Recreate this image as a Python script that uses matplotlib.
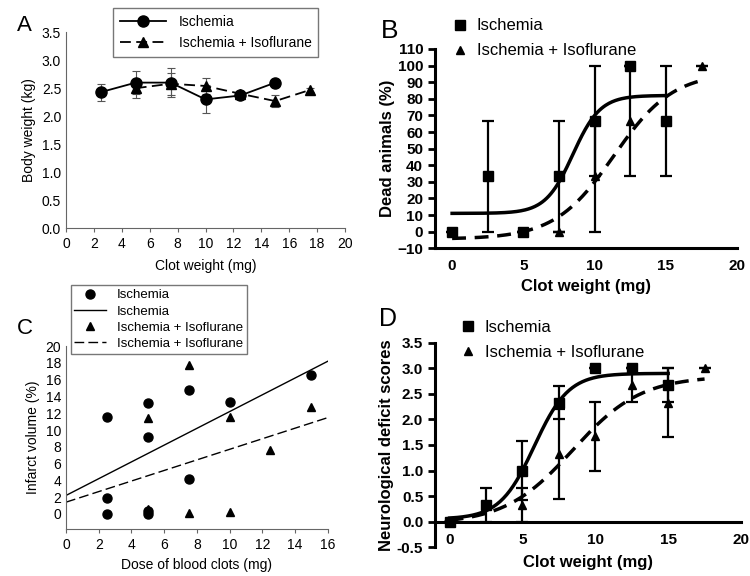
"""
Four-panel clot weight figure: body weight, mortality, infarct volume, neuro scores
"""

import numpy as np
import matplotlib
matplotlib.use("Agg")
import matplotlib.pyplot as plt

plt.rcParams['font.family'] = ['Liberation Sans', 'DejaVu Sans']

# Panel A - body weight (kg)
a_isch_x = [2.5, 5, 7.5, 10, 12.5, 15]
a_isch_y = [2.43, 2.6, 2.6, 2.3, 2.37, 2.6]
a_isch_err = [0.15, 0.2, 0.26, 0.25, 0.03, 0.0]
a_iso_x = [5, 7.5, 10, 12.5, 15, 17.5]
a_iso_y = [2.5, 2.58, 2.54, 2.4, 2.27, 2.47]
a_iso_err = [0.17, 0.2, 0.14, 0.03, 0.11, 0.03]

# Panel B - dead animals (%)
b_isch_x = [0, 2.5, 5, 7.5, 10, 12.5, 15]
b_isch_y = [0, 33.3, 0, 33.3, 66.7, 100, 66.7]
b_isch_err = [0, 33.3, 0, 33.3, 33.3, 0, 33.3]
b_iso_x = [5, 7.5, 10, 12.5, 17.5]
b_iso_y = [0, 0, 33.3, 66.7, 100]
b_iso_err = [0, 0, 33.3, 33.3, 0]
# sigmoid fit: bottom, top, midpoint, slope width, x range
b_isch_fit = [11, 82, 8.47, 0.96, 0, 15]
b_iso_fit = [-4.5, 96, 11.35, 2.08, 0, 17.5]

# Panel C - infarct volume (%)
c_isch_x = [2.5, 2.5, 2.5, 5, 5, 5, 5, 7.5, 7.5, 10, 15]
c_isch_y = [11.5, 1.9, 0, 13.2, 9.2, 0.3, 0, 14.8, 4.2, 13.3, 16.6]
c_iso_x = [5, 5, 7.5, 7.5, 10, 10, 12.5, 15]
c_iso_y = [11.4, 0.6, 17.8, 0.1, 11.6, 0.2, 7.6, 12.8]
# regression lines: intercept, slope
c_isch_line = [2.2, 1.0]
c_iso_line = [1.4, 0.63]

# Panel D - neurological deficit scores
d_isch_x = [0, 2.5, 5, 7.5, 10, 12.5, 15]
d_isch_y = [0, 0.33, 1.0, 2.33, 3.0, 3.0, 2.67]
d_isch_err = [0, 0.33, 0.58, 0.33, 0, 0, 0.33]
d_iso_x = [0, 5, 7.5, 10, 12.5, 15, 17.5]
d_iso_y = [0, 0.33, 1.33, 1.67, 2.67, 2.33, 3.0]
d_iso_err = [0, 0.33, 0.88, 0.67, 0.33, 0.67, 0]
d_isch_fit = [0.05, 2.9, 5.81, 1.18, 0, 15]
d_iso_fit = [-0.05, 2.85, 8.45, 2.35, 0, 17.5]


def sigmoid_curve(params):
    bottom, top, x0, s, xmin, xmax = params
    x = np.linspace(xmin, xmax, 200)
    return x, bottom + (top - bottom) / (1 + np.exp(-(x - x0) / s))


fig = plt.figure(figsize=(7.5, 5.76), dpi=100)

# ---------------- Panel A ----------------
ax1 = fig.add_axes([0.088, 0.604, 0.372, 0.34])
ax1.errorbar(a_isch_x, a_isch_y, yerr=a_isch_err, fmt='none', ecolor='#555555',
             elinewidth=0.8, capsize=3, capthick=0.8)
ax1.errorbar(a_iso_x, a_iso_y, yerr=a_iso_err, fmt='none', ecolor='#555555',
             elinewidth=0.8, capsize=3, capthick=0.8)
l1, = ax1.plot(a_isch_x, a_isch_y, '-o', color='black', lw=1.3, ms=8,
               label='Ischemia')
l2, = ax1.plot(a_iso_x, a_iso_y, '^', ls=(0, (6, 3)), color='black', lw=1.3,
               ms=7, label='Ischemia + Isoflurane')
ax1.set_xlim(0, 20)
ax1.set_ylim(0, 3.5)
ax1.set_xticks(range(0, 21, 2))
ax1.set_yticks(np.arange(0, 3.51, 0.5))
ax1.set_yticklabels([f'{v:.1f}' for v in np.arange(0, 3.51, 0.5)])
for sp in ['top', 'right']:
    ax1.spines[sp].set_visible(False)
for sp in ['left', 'bottom']:
    ax1.spines[sp].set_color('#666666')
ax1.tick_params(axis='x', length=3, color='#666666', labelsize=10)
ax1.tick_params(axis='y', length=0, labelsize=10)
ax1.set_xlabel('Clot weight (mg)', fontsize=10, labelpad=6)
ax1.set_ylabel('Body weight (kg)', fontsize=10)
ax1.legend(handles=[l1, l2], loc='upper left', bbox_to_anchor=(0.151, 0.986),
           bbox_transform=fig.transFigure, borderaxespad=0,
           fontsize=10, frameon=True, fancybox=False, edgecolor='#555555',
           handlelength=3.3, handletextpad=0.9, borderpad=0.5,
           labelspacing=0.5)
fig.text(0.022, 0.955, 'A', fontsize=16, va='center')

# ---------------- Panel B ----------------
ax2 = fig.add_axes([0.58, 0.569, 0.403, 0.346])
ax2.errorbar(b_isch_x, b_isch_y, yerr=b_isch_err, fmt='none', ecolor='black',
             elinewidth=1.6, capsize=4, capthick=1.6)
ax2.errorbar(b_iso_x, b_iso_y, yerr=b_iso_err, fmt='none', ecolor='black',
             elinewidth=1.6, capsize=4, capthick=1.6)
bx, by = sigmoid_curve(b_isch_fit)
ax2.plot(bx, by, '-', color='black', lw=2.5)
bx2, by2 = sigmoid_curve(b_iso_fit)
ax2.plot(bx2, by2, '--', color='black', lw=2.5, dashes=(4, 2.5))
m1, = ax2.plot(b_isch_x, b_isch_y, 's', color='black', ms=7, ls='none',
               label='Ischemia')
m2, = ax2.plot(b_iso_x, b_iso_y, '^', color='black', ms=6, ls='none',
               label='Ischemia + Isoflurane')
ax2.set_xlim(-1.2, 20)
ax2.set_ylim(-10, 110)
ax2.set_xticks(range(0, 21, 5))
ax2.set_yticks(range(-10, 111, 10))
for sp in ['top', 'right']:
    ax2.spines[sp].set_visible(False)
for sp in ['left', 'bottom']:
    ax2.spines[sp].set_linewidth(2.2)
ax2.tick_params(width=2, length=5, labelsize=11)
ax2.tick_params(axis='x', length=0, pad=8)
for lab in ax2.get_xticklabels() + ax2.get_yticklabels():
    lab.set_fontweight('bold')
ax2.set_xlabel('Clot weight (mg)', fontsize=12, fontweight='bold')
ax2.set_ylabel('Dead animals (%)', fontsize=12, fontweight='bold', labelpad=2)
ax2.legend(handles=[m1, m2], loc='upper left', bbox_to_anchor=(0.600, 0.971),
           bbox_transform=fig.transFigure, borderaxespad=0,
           fontsize=12, frameon=False, handlelength=1.0, handletextpad=0.5,
           labelspacing=0.6, borderpad=0.1)
fig.text(0.508, 0.946, 'B', fontsize=19, va='center')

# ---------------- Panel C ----------------
ax3 = fig.add_axes([0.088, 0.0816, 0.349, 0.3174])
ax3.plot(c_isch_x, c_isch_y, 'o', color='black', ms=6.5, ls='none',
         label='Ischemia')
xl = np.array([0, 16])
ax3.plot(xl, c_isch_line[0] + c_isch_line[1] * xl, '-', color='black', lw=1,
         label='Ischemia')
ax3.plot(c_iso_x, c_iso_y, '^', color='black', ms=6, ls='none',
         label='Ischemia + Isoflurane')
ax3.plot(xl, c_iso_line[0] + c_iso_line[1] * xl, color='black', lw=1,
         dashes=(7, 3), label='Ischemia + Isoflurane')
ax3.set_xlim(0, 16)
ax3.set_ylim(-1.8, 20)
ax3.set_xticks(range(0, 17, 2))
ax3.set_yticks(range(0, 21, 2))
for sp in ['top', 'right']:
    ax3.spines[sp].set_visible(False)
for sp in ['left', 'bottom']:
    ax3.spines[sp].set_color('#666666')
ax3.tick_params(axis='x', length=3, color='#666666', labelsize=10)
ax3.tick_params(axis='y', length=0, labelsize=10)
ax3.set_xlabel('Dose of blood clots (mg)', fontsize=10)
ax3.set_ylabel('Infarct volume (%)', fontsize=10)
ax3.legend(loc='upper left', bbox_to_anchor=(0.094, 0.505),
           bbox_transform=fig.transFigure, borderaxespad=0, fontsize=9.5,
           frameon=True, fancybox=False, edgecolor='#555555', handlelength=2.4,
           handletextpad=0.8, borderpad=0.3, labelspacing=0.3)
fig.text(0.022, 0.429, 'C', fontsize=16, va='center')

# ---------------- Panel D ----------------
ax4 = fig.add_axes([0.58, 0.050, 0.408, 0.355])
ax4.errorbar(d_isch_x, d_isch_y, yerr=d_isch_err, fmt='none', ecolor='black',
             elinewidth=1.6, capsize=4, capthick=1.6)
ax4.errorbar(d_iso_x, d_iso_y, yerr=d_iso_err, fmt='none', ecolor='black',
             elinewidth=1.6, capsize=4, capthick=1.6)
dx, dy = sigmoid_curve(d_isch_fit)
ax4.plot(dx, dy, '-', color='black', lw=2.5)
dx2, dy2 = sigmoid_curve(d_iso_fit)
ax4.plot(dx2, dy2, '--', color='black', lw=2.5, dashes=(4, 2.5))
n1, = ax4.plot(d_isch_x, d_isch_y, 's', color='black', ms=7, ls='none',
               label='Ischemia')
n2, = ax4.plot(d_iso_x, d_iso_y, '^', color='black', ms=6, ls='none',
               label='Ischemia + Isoflurane')
ax4.set_xlim(-1, 20)
ax4.set_ylim(-0.5, 3.5)
ax4.set_xticks(range(0, 21, 5))
ax4.set_yticks(np.arange(-0.5, 3.51, 0.5))
ax4.set_yticklabels([f'{v:.1f}' for v in np.arange(-0.5, 3.51, 0.5)])
for sp in ['top', 'right']:
    ax4.spines[sp].set_visible(False)
for sp in ['left', 'bottom']:
    ax4.spines[sp].set_linewidth(2.2)
ax4.spines['bottom'].set_position(('data', 0))
ax4.tick_params(width=2, length=5, labelsize=11)
ax4.tick_params(axis='x', length=0, pad=8)
for lab in ax4.get_xticklabels() + ax4.get_yticklabels():
    lab.set_fontweight('bold')
ax4.set_xlabel('Clot weight (mg)', fontsize=12, fontweight='bold')
ax4.xaxis.set_label_coords(0.5, -0.04)
ax4.set_ylabel('Neurological deficit scores', fontsize=12, fontweight='bold',
               labelpad=2)
ax4.legend(handles=[n1, n2], loc='upper left', bbox_to_anchor=(0.611, 0.448),
           bbox_transform=fig.transFigure, borderaxespad=0,
           fontsize=12, frameon=False, handlelength=1.0, handletextpad=0.5,
           labelspacing=0.6, borderpad=0.1)
fig.text(0.505, 0.447, 'D', fontsize=18, va='center')

fig.savefig('out.png', dpi=100)
